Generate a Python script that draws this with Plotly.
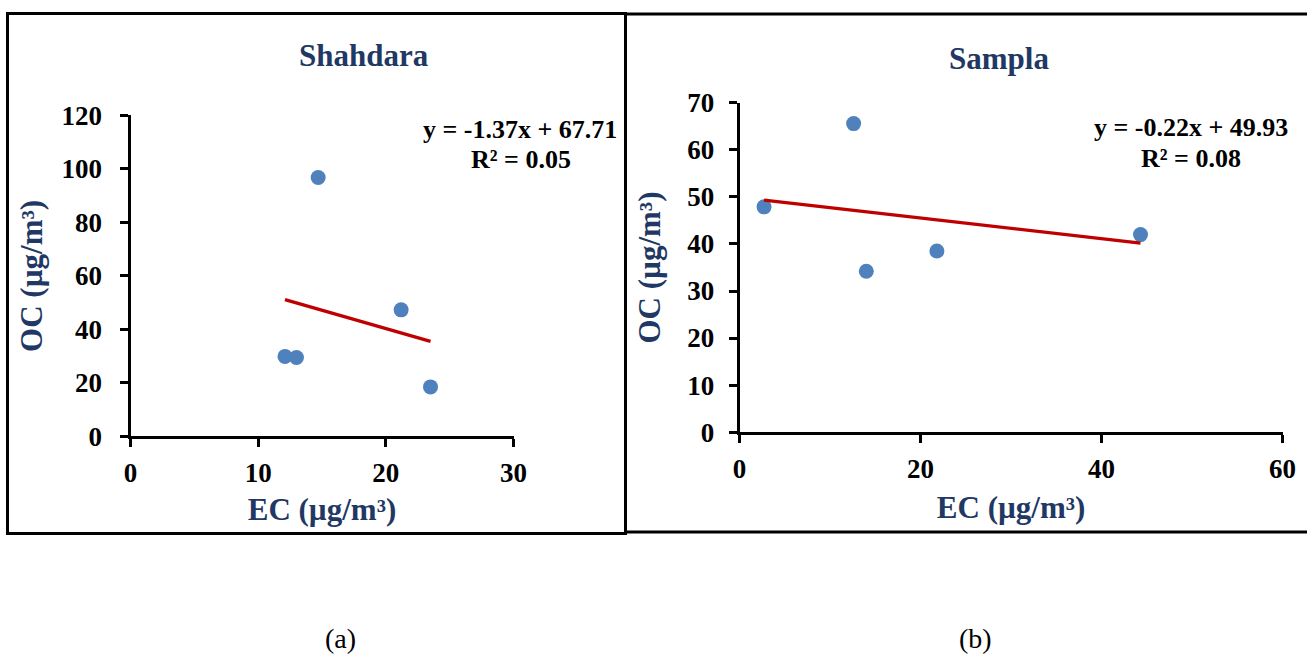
import plotly.graph_objects as go

W, H = 1307, 655

# ---- data ----
shahdara_ec = [14.7, 12.1, 13.0, 21.2, 23.5]
shahdara_oc = [96.8, 29.9, 29.5, 47.3, 18.5]
shahdara_slope, shahdara_icpt, shahdara_r2 = -1.37, 67.71, 0.05

sampla_ec = [2.7, 12.6, 14.0, 21.8, 44.3]
sampla_oc = [47.9, 65.6, 34.2, 38.5, 42.0]
sampla_slope, sampla_icpt, sampla_r2 = -0.22, 49.93, 0.08

left_xticks = [0, 10, 20, 30]
left_yticks = [0, 20, 40, 60, 80, 100, 120]
right_xticks = [0, 20, 40, 60]
right_yticks = [0, 10, 20, 30, 40, 50, 60, 70]

FONT = "Liberation Serif"
NAVY = "#1F3864"
PT_COLOR = "#4F81BD"
LINE_COLOR = "#C00000"


def px_x(p):
    return p / W


def px_y(p):
    return 1 - p / H


fig = go.Figure()

for ec, oc, slope, icpt, xa, ya in [
    (shahdara_ec, shahdara_oc, shahdara_slope, shahdara_icpt, "x", "y"),
    (sampla_ec, sampla_oc, sampla_slope, sampla_icpt, "x2", "y2"),
]:
    fig.add_trace(go.Scatter(x=ec, y=oc, mode="markers", xaxis=xa, yaxis=ya,
                             marker=dict(color=PT_COLOR, size=15),
                             showlegend=False, hoverinfo="x+y"))
    x0, x1 = min(ec), max(ec)
    fig.add_trace(go.Scatter(x=[x0, x1], y=[slope * x0 + icpt, slope * x1 + icpt],
                             mode="lines", xaxis=xa, yaxis=ya,
                             line=dict(color=LINE_COLOR, width=3.2),
                             showlegend=False, hoverinfo="skip"))

tickfont = dict(family=FONT, size=27, color="black", weight="bold")
titlefont = dict(family=FONT, size=31, color=NAVY, weight="bold")
axis_common = dict(showline=True, linecolor="black", linewidth=3, ticks="outside",
                   ticklen=8, tickwidth=3, tickcolor="black", showgrid=False,
                   zeroline=False, tickfont=tickfont, automargin=False)

fig.update_layout(
    template="none",
    width=W, height=H, margin=dict(l=0, r=0, t=0, b=0, pad=0, autoexpand=False),
    paper_bgcolor="white", plot_bgcolor="white", showlegend=False,
    xaxis=dict(domain=[px_x(130.5), px_x(513.5)], range=[0, 30], tickvals=left_xticks,
               anchor="y", ticklabelstandoff=2,
               title=dict(text="EC (µg/m³)", font=titlefont, standoff=12),
               **axis_common),
    yaxis=dict(domain=[px_y(436.4), px_y(115.4)], range=[0, 120], tickvals=left_yticks,
               anchor="x", ticklabelstandoff=12,
               title=dict(text="OC (µg/m³)", font=titlefont, standoff=10),
               **axis_common),
    xaxis2=dict(domain=[px_x(739.6), px_x(1282.6)], range=[0, 60], tickvals=right_xticks,
                anchor="y2", ticklabelstandoff=2,
                title=dict(text="EC (µg/m³)", font=titlefont, standoff=14),
                **axis_common),
    yaxis2=dict(domain=[px_y(432.1), px_y(102.9)], range=[0, 70], tickvals=right_yticks,
                anchor="x2", ticklabelstandoff=9,
                title=dict(text="OC (µg/m³)", font=titlefont, standoff=18),
                **axis_common),
)

# panel borders
fig.add_shape(type="rect", xref="paper", yref="paper",
              x0=px_x(7.5), x1=px_x(625.5), y0=px_y(533.5), y1=px_y(13.5),
              line=dict(color="black", width=3), fillcolor="rgba(0,0,0,0)", layer="below")
fig.add_shape(type="rect", xref="paper", yref="paper",
              x0=px_x(625.5), x1=px_x(1310), y0=px_y(532), y1=px_y(14),
              line=dict(color="black", width=3), fillcolor="rgba(0,0,0,0)", layer="below")

ann = []
ann.append(dict(text="Shahdara", x=px_x(364), y=px_y(56), font=titlefont))
ann.append(dict(text="Sampla", x=px_x(999), y=px_y(59), font=titlefont))
eqfont = dict(family=FONT, size=26, color="black", weight="bold")
ann.append(dict(text=f"y = {shahdara_slope:.2f}x + {shahdara_icpt:.2f}",
                x=px_x(520), y=px_y(129), font=eqfont))
ann.append(dict(text=f"R² = {shahdara_r2:.2f}", x=px_x(521), y=px_y(160), font=eqfont))
ann.append(dict(text=f"y = {sampla_slope:.2f}x + {sampla_icpt:.2f}",
                x=px_x(1190.5), y=px_y(127), font=eqfont))
ann.append(dict(text=f"R² = {sampla_r2:.2f}", x=px_x(1191), y=px_y(158), font=eqfont))
capfont = dict(family=FONT, size=28, color="black")
ann.append(dict(text="(a)", x=px_x(340), y=px_y(638), font=capfont))
ann.append(dict(text="(b)", x=px_x(975), y=px_y(638), font=capfont))
for a in ann:
    a.update(xref="paper", yref="paper", showarrow=False, xanchor="center", yanchor="middle")
fig.update_layout(annotations=ann)

fig.write_html("out.html")
